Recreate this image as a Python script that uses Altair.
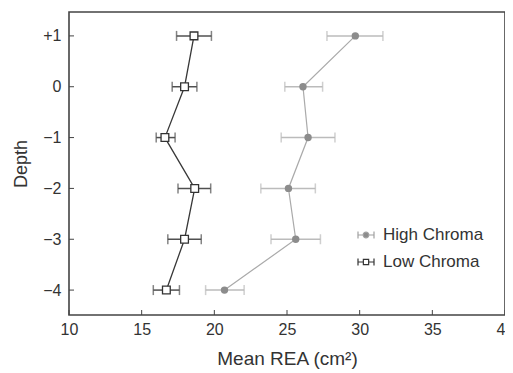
import altair as alt
import pandas as pd

depths = [1, 0, -1, -2, -3, -4]
high_mean = [29.7, 26.1, 26.45, 25.1, 25.6, 20.7]
high_lo = [27.75, 24.85, 24.6, 23.2, 23.9, 19.4]
high_hi = [31.6, 27.45, 28.3, 26.95, 27.3, 22.05]
low_mean = [18.6, 17.95, 16.6, 18.65, 17.95, 16.7]
low_lo = [17.4, 17.1, 16.0, 17.5, 16.8, 15.8]
low_hi = [19.8, 18.8, 17.3, 19.75, 19.1, 17.6]
series_names = ["High Chroma", "Low Chroma"]
x_ticks = [10, 15, 20, 25, 30, 35, 40]
y_ticks = [-4, -3, -2, -1, 0, 1]

W, H = 436, 303
FONT = "Liberation Sans"

rows = []
for name, m, lo, hi in [(series_names[0], high_mean, high_lo, high_hi),
                        (series_names[1], low_mean, low_lo, low_hi)]:
    for d, a, b, c in zip(depths, m, lo, hi):
        rows.append({"series": name, "depth": d, "mean": a, "lo": b, "hi": c})
df = pd.DataFrame(rows)

xs = alt.Scale(domain=[10, 40], nice=False, zero=False)
ys = alt.Scale(domain=[-4.49, 1.47], nice=False, zero=False)

xaxis = alt.Axis(values=x_ticks, ticks=False, domain=False, grid=False,
                 labelFont=FONT, labelFontSize=16, labelColor="#333",
                 labelPadding=6, labelFlush=False, labelOverlap=False,
                 title="Mean REA (cm²)", titleFont=FONT,
                 titleFontSize=19, titleFontWeight="normal", titleColor="#333",
                 titlePadding=12)
yaxis = alt.Axis(values=y_ticks, ticks=False, domain=False, grid=False,
                 labelFont=FONT, labelFontSize=16, labelColor="#333",
                 labelPadding=8, labelFlush=False,
                 labelExpr="datum.value > 0 ? '+' + datum.label : datum.label",
                 title="Depth", titleFont=FONT, titleFontSize=18,
                 titleFontWeight="normal", titleColor="#333", titlePadding=12)


def X(f):
    return alt.X(f, scale=xs, axis=xaxis)


def Y(f):
    return alt.Y(f, scale=ys, axis=yaxis)


base = alt.Chart(df)
styles = {
    "High Chroma": dict(line="#aaaaaa", lw=1.2, err="#bbbbbb", ew=1.5),
    "Low Chroma": dict(line="#383838", lw=1.3, err="#505050", ew=1.5),
}

layers = []
for name in series_names:
    st = styles[name]
    b = base.transform_filter(alt.datum.series == name)
    layers.append(b.mark_rule(color=st["err"], strokeWidth=st["ew"]).encode(
        x=X("lo:Q"), x2="hi:Q", y=Y("depth:Q")))
    for f in ["lo:Q", "hi:Q"]:
        layers.append(b.mark_tick(color=st["err"], orient="vertical", size=10,
                                  thickness=st["ew"]).encode(
            x=X(f), y=Y("depth:Q")))
    layers.append(b.mark_line(color=st["line"], strokeWidth=st["lw"]).encode(
        x=X("mean:Q"), y=Y("depth:Q"), order=alt.Order("depth:Q")))

hb = base.transform_filter(alt.datum.series == "High Chroma")
lb = base.transform_filter(alt.datum.series == "Low Chroma")
layers.append(hb.mark_point(shape="circle", filled=True, color="#8c8c8c",
                            size=55, opacity=1).encode(
    x=X("mean:Q"), y=Y("depth:Q")))
layers.append(lb.mark_point(shape="square", fill="white", stroke="#333333",
                            strokeWidth=1.3, size=60, opacity=1).encode(
    x=X("mean:Q"), y=Y("depth:Q")))

# inward ticks
xt = pd.DataFrame({"v": x_ticks})
yt = pd.DataFrame({"v": y_ticks})
layers.append(alt.Chart(xt).mark_rule(color="#444", strokeWidth=1).encode(
    x=X("v:Q"), y=alt.value(H), y2=alt.value(H - 5)))
layers.append(alt.Chart(yt).mark_rule(color="#444", strokeWidth=1).encode(
    y=Y("v:Q"), x=alt.value(0), x2=alt.value(5)))

# legend layer (no visible marks)
high_path = ("M-1,0H-0.35M0.35,0H1M-1,-0.45V0.45M1,-0.45V0.45"
             "M0.35,0A0.35,0.35,0,1,1,-0.35,0A0.35,0.35,0,1,1,0.35,0Z")
low_path = ("M-1,0H-0.33M0.33,0H1M-1,-0.45V0.45M1,-0.45V0.45"
            "M-0.33,-0.33H0.33V0.33H-0.33Z")
leg = alt.Legend(title=None, orient="none", legendX=288, legendY=214,
                 labelFont=FONT, labelFontSize=17, labelColor="#333",
                 symbolSize=256, symbolStrokeWidth=1.2, labelOffset=8,
                 rowPadding=10, symbolOpacity=1)
layers.append(base.transform_filter("false").mark_point(filled=False).encode(
    x=X("mean:Q"), y=Y("depth:Q"),
    shape=alt.Shape("series:N", scale=alt.Scale(domain=series_names,
                    range=[high_path, low_path]), legend=leg),
    color=alt.Color("series:N", scale=alt.Scale(domain=series_names,
                    range=["#a0a0a0", "#333333"]), legend=leg),
    fill=alt.Fill("series:N", scale=alt.Scale(domain=series_names,
                  range=["#8c8c8c", "#ffffff"]), legend=leg),
))

chart = alt.layer(*layers).properties(
    width=W, height=H,
    background="white",
    padding={"left": 61, "top": 4, "right": 0, "bottom": 58},
    autosize=alt.AutoSizeParams(type="none"),
).configure_view(stroke="#444444", strokeWidth=1.6)

chart.save("out.html", embed_options={"renderer": "svg", "actions": False})
